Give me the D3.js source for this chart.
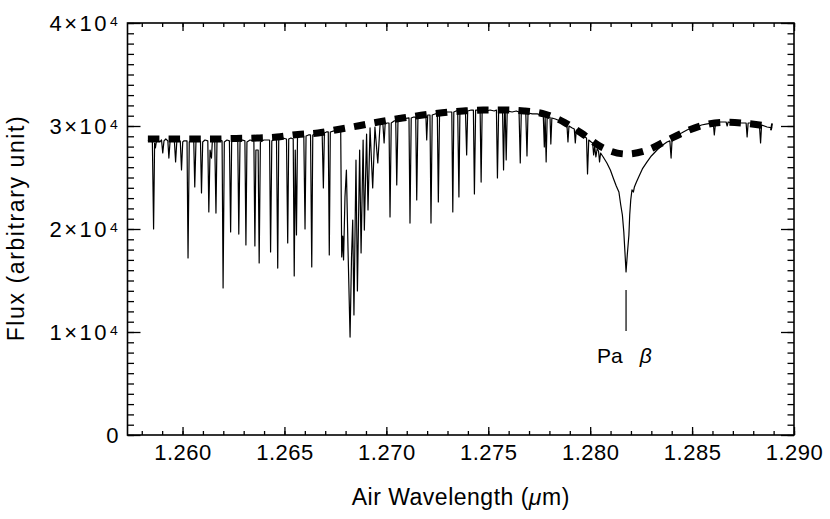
<!DOCTYPE html>
<html>
<head>
<meta charset="utf-8">
<script src="https://cdn.jsdelivr.net/npm/d3@7"></script>
<style>
  body { margin: 0; background: #fff; }
  svg { display: block; }
  text { font-family: "Liberation Sans", Arial, sans-serif; fill: #000; }
</style>
</head>
<body>
<div id="graph"></div>
<script>

// observed spectrum (air wavelength in micron, flux in counts)
var specWave = [
  1.25830,1.25842,1.25852,1.25858,1.25863,1.25867,1.25872,1.25879,1.25889,1.25897,
  1.25903,1.25909,1.25918,1.25928,1.25933,1.25939,1.25947,1.25960,1.25966,1.25972,
  1.25979,1.25989,1.25995,1.26001,1.26006,1.26022,1.26027,1.26033,1.26043,1.26055,
  1.26060,1.26066,1.26078,1.26088,1.26093,1.26099,1.26110,1.26124,1.26129,1.26135,
  1.26142,1.26146,1.26158,1.26164,1.26169,1.26181,1.26194,1.26199,1.26205,1.26218,
  1.26230,1.26236,1.26241,1.26257,1.26271,1.26276,1.26282,1.26294,1.26306,1.26311,
  1.26316,1.26331,1.26350,1.26355,1.26360,1.26371,1.26376,1.26382,1.26399,1.26427,
  1.26432,1.26438,1.26451,1.26461,1.26467,1.26472,1.26488,1.26510,1.26516,1.26521,
  1.26532,1.26543,1.26548,1.26553,1.26559,1.26564,1.26576,1.26595,1.26601,1.26606,
  1.26618,1.26628,1.26634,1.26639,1.26660,1.26685,1.26691,1.26696,1.26706,1.26715,
  1.26720,1.26725,1.26743,1.26763,1.26776,1.26781,1.26786,1.26790,1.26797,1.26804,
  1.26812,1.26822,1.26829,1.26835,1.26841,1.26851,1.26858,1.26869,1.26876,1.26886,
  1.26892,1.26903,1.26910,1.26920,1.26933,1.26944,1.26958,1.26969,1.26983,1.26989,
  1.26994,1.27003,1.27013,1.27018,1.27024,1.27038,1.27046,1.27051,1.27057,1.27077,
  1.27111,1.27116,1.27122,1.27134,1.27144,1.27149,1.27155,1.27170,1.27194,1.27198,
  1.27203,1.27214,1.27219,1.27225,1.27239,1.27250,1.27255,1.27261,1.27288,1.27321,
  1.27326,1.27331,1.27342,1.27350,1.27356,1.27361,1.27377,1.27388,1.27394,1.27399,
  1.27416,1.27427,1.27432,1.27438,1.27450,1.27460,1.27465,1.27470,1.27490,1.27509,
  1.27529,1.27540,1.27545,1.27551,1.27559,1.27570,1.27575,1.27580,1.27583,1.27588,
  1.27593,1.27617,1.27637,1.27651,1.27657,1.27662,1.27676,1.27684,1.27690,1.27695,
  1.27716,1.27740,1.27760,1.27770,1.27775,1.27779,1.27784,1.27789,1.27803,1.27807,
  1.27812,1.27829,1.27853,1.27873,1.27886,1.27891,1.27896,1.27912,1.27922,1.27927,
  1.27932,1.27951,1.27966,1.27982,1.27987,1.27993,1.28005,1.28012,1.28017,1.28022,
  1.28028,1.28034,1.28041,1.28046,1.28051,1.28064,1.28082,1.28099,1.28115,1.28128,
  1.28141,1.28150,1.28158,1.28165,1.28176,1.28182,1.28190,1.28194,1.28199,1.28205,
  1.28212,1.28217,1.28227,1.28238,1.28256,1.28279,1.28300,1.28328,1.28349,1.28377,
  1.28391,1.28397,1.28402,1.28426,1.28448,1.28475,1.28497,1.28525,1.28546,1.28574,
  1.28604,1.28609,1.28615,1.28639,1.28667,1.28672,1.28677,1.28693,1.28721,1.28742,
  1.28765,1.28770,1.28775,1.28802,1.28830,1.28836,1.28841,1.28868,1.28893
];
var specFlux = [
  28640,28550,28450,20000,28350,27870,28550,28640,28450,28640,
  27380,28550,28740,28550,26890,28550,28640,28550,26510,28550,
  28640,28550,25730,28450,28550,28550,17190,28450,28640,28550,
  24080,28550,28640,28550,23500,28450,28640,28550,21650,27670,
  26890,28450,28550,21550,28450,28640,28550,14270,28450,28640,
  28550,19710,28450,28640,28550,19510,28450,28640,28550,18450,
  28450,28640,28550,18350,27670,27670,16700,28450,28640,28640,
  17770,28550,28740,28640,16210,28640,28840,28740,18640,28740,
  28840,28740,15440,27670,19420,28840,29030,29030,20000,29030,
  29130,29130,16310,29130,29320,29320,23980,29320,29420,29420,
  17480,29420,29520,29610,29610,17280,19320,16990,23110,25730,
  17960,9510,17190,20870,11650,26700,13980,27670,17670,28640,
  19900,29220,21850,29810,23980,29900,26410,30100,30200,28350,
  30200,30290,30290,21170,30290,30490,30490,24270,30490,30680,
  30780,20580,30780,30870,30870,22820,30870,30970,30970,28640,
  31070,31070,20580,31070,31170,31170,22620,31170,31360,31360,
  21650,31360,31460,31460,23110,31460,31460,31460,27190,31460,
  31550,31550,23400,31550,31550,31550,24560,31550,31460,31550,
  31460,31550,24950,31550,31550,31550,25730,31360,31460,26700,
  31460,31360,31460,31360,26410,31360,31260,31260,27090,31260,
  31170,31170,31070,30970,27960,30870,26510,30870,30870,28250,
  30780,30680,30490,30290,30100,28450,30000,29810,29710,28350,
  29610,29320,29030,28840,25340,28640,28450,28350,27190,28060,
  26990,27770,27570,26510,27380,26990,26410,25730,24860,24180,
  23590,22330,21360,19710,15830,17480,19420,21360,22820,23790,
  23590,24080,24560,25050,25830,26510,27090,27670,28060,28450,
  28550,26890,28740,29130,29320,29610,29810,29900,30100,30200,
  30290,29130,30290,30390,30390,30000,30390,30290,30390,30290,
  30290,28930,30290,30290,30200,28350,30100,29900,29810
];

// fitted continuum (thick dashed curve)
var contWave = [1.25830,1.25854,1.25952,1.26056,1.26159,1.26262,1.26365,1.26463,1.26566,
  1.26665,1.26763,1.26866,1.26969,1.27072,1.27170,1.27274,1.27377,1.27475,1.27573,1.27676,
  1.27780,1.27873,1.27956,1.28064,1.28177,1.28281,1.28374,1.28467,1.28560,1.28659,1.28757,
  1.28865,1.28894];
var contFlux = [28740,28740,28740,28740,28740,28790,28830,28930,29180,
  29320,29660,30030,30420,30750,31040,31290,31460,31550,31550,31460,
  31140,30360,29320,27860,27280,27670,28570,29450,30100,30360,30260,
  30000,29900];

// Pa beta marker
var lineName = 'Pa';
var lineGreek = '\u03b2';
var lineWave = 1.28176;
var lineMark = [14080, 10100];

// axis ticks
var xTicks = [1.260, 1.265, 1.270, 1.275, 1.280, 1.285, 1.290];
var yTicks = [0, 10000, 20000, 30000, 40000];
var yTickLabels = ['0', '1\u00d710\u2074', '2\u00d710\u2074', '3\u00d710\u2074', '4\u00d710\u2074'];

// plot box in page pixels
var width = 830, height = 519;
var margin = {top: 23, right: 36, bottom: 84, left: 127.5};
var innerW = width - margin.left - margin.right;
var innerH = height - margin.top - margin.bottom;

var x = d3.scaleLinear().domain([1.2573, 1.2900]).range([0, innerW]);
var y = d3.scaleLinear().domain([0, 40000]).range([innerH, 0]);

var svg = d3.select('#graph')
  .append('svg')
    .attr('width', width)
    .attr('height', height)
  .append('g')
    .attr('transform', 'translate(' + margin.left + ',' + margin.top + ')');

// minor ticks every 0.001 micron and every 1000 counts
var xMinor = d3.range(1258, 1291).map(function(d) { return d / 1000; });
var yMinor = d3.range(0, 40001, 1000);

function tickAxis(axis, transform) {
  var g = svg.append('g')
    .attr('transform', transform)
    .call(axis);
  g.select('.domain').remove();
  g.selectAll('.tick line').attr('stroke', '#000').attr('stroke-width', 1.3);
  return g;
}

// minor ticks on all four sides, pointing inward
tickAxis(d3.axisBottom(x).tickValues(xMinor).tickSize(-4).tickFormat(''), 'translate(0,' + innerH + ')');
tickAxis(d3.axisTop(x).tickValues(xMinor).tickSize(-4).tickFormat(''), 'translate(0,0)');
tickAxis(d3.axisLeft(y).tickValues(yMinor).tickSize(-6.5).tickFormat(''), 'translate(0,0)');
tickAxis(d3.axisRight(y).tickValues(yMinor).tickSize(-6.5).tickFormat(''), 'translate(' + innerW + ',0)');

// major ticks
var xAxisG = tickAxis(d3.axisBottom(x).tickValues(xTicks).tickSize(-8).tickPadding(9.5)
  .tickFormat(d3.format('.3f')), 'translate(0,' + innerH + ')');
tickAxis(d3.axisTop(x).tickValues(xTicks).tickSize(-8).tickFormat(''), 'translate(0,0)');
var yAxisG = tickAxis(d3.axisLeft(y).tickValues(yTicks).tickSize(-13).tickPadding(6)
  .tickFormat(function(d, i) { return yTickLabels[i]; }), 'translate(0,0)');
tickAxis(d3.axisRight(y).tickValues(yTicks).tickSize(-13).tickFormat(''), 'translate(' + innerW + ',0)');

xAxisG.attr('font-family', null).attr('font-size', null);
xAxisG.selectAll('.tick text')
  .style('font-size', '22px')
  .style('letter-spacing', '0.5px');

yAxisG.attr('font-family', null).attr('font-size', null);
yAxisG.selectAll('.tick text')
  .attr('dy', '0.36em')
  .style('font-size', '22px')
  .style('letter-spacing', function(d) { return d === 0 ? '0px' : '2.5px'; })
  .attr('x', function(d) { return d === 0 ? -9 : -6.5; });

// frame
svg.append('rect')
  .attr('width', innerW)
  .attr('height', innerH)
  .attr('fill', 'none')
  .attr('stroke', '#000')
  .attr('stroke-width', 1.6);

// spectrum
var spectrum = specWave.map(function(w, i) { return {w: w, f: specFlux[i]}; });
var valueline = d3.line()
  .x(function(d) { return x(d.w); })
  .y(function(d) { return y(d.f); });

svg.append('path')
  .datum(spectrum)
  .attr('fill', 'none')
  .attr('stroke', '#000')
  .attr('stroke-width', 1.2)
  .attr('stroke-linejoin', 'round')
  .attr('d', valueline);

// continuum fit, thick dashes
var continuum = contWave.map(function(w, i) { return {w: w, f: contFlux[i]}; });
svg.append('path')
  .datum(continuum)
  .attr('fill', 'none')
  .attr('stroke', '#000')
  .attr('stroke-width', 7)
  .attr('stroke-dasharray', '11.5,9.2')
  .attr('d', valueline.curve(d3.curveMonotoneX));

// Pa beta marker and label
svg.append('line')
  .attr('x1', x(lineWave)).attr('x2', x(lineWave))
  .attr('y1', y(lineMark[0])).attr('y2', y(lineMark[1]))
  .attr('stroke', '#000')
  .attr('stroke-width', 1.2);

var lab = svg.append('text')
  .attr('x', x(lineWave) - 29)
  .attr('y', 340)
  .style('font-size', '21px');
lab.append('tspan').text(lineName);
lab.append('tspan').attr('dx', 17).style('font-style', 'italic').text(lineGreek);

// axis titles
svg.append('text')
  .attr('x', innerW / 2)
  .attr('y', innerH + 70)
  .attr('text-anchor', 'middle')
  .style('font-size', '23px')
  .style('letter-spacing', '0.5px')
  .html('Air Wavelength (<tspan font-style="italic">\u03bc</tspan>m)');

svg.append('text')
  .attr('transform', 'translate(' + (24 - margin.left) + ',' + (228 - margin.top) + ') rotate(-90)')
  .attr('text-anchor', 'middle')
  .style('font-size', '23px')
  .style('letter-spacing', '1.6px')
  .text('Flux (arbitrary unit)');

</script>
</body>
</html>
